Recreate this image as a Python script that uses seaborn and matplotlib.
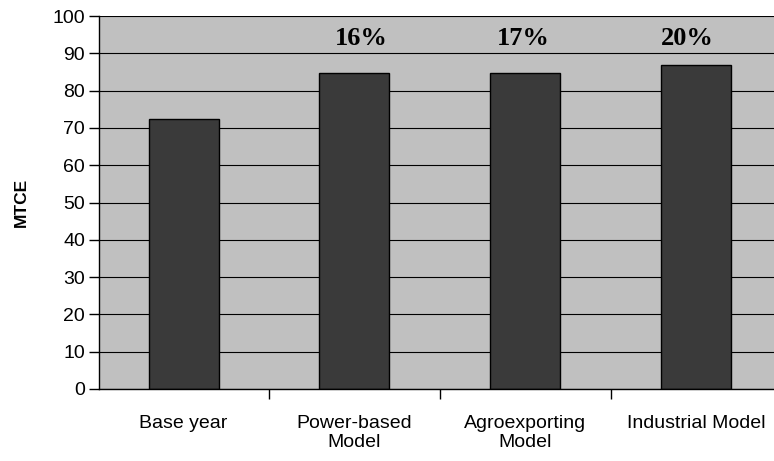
import matplotlib
matplotlib.use("Agg")
import matplotlib.pyplot as plt
import seaborn as sns
import pandas as pd

categories = ["Base year", "Power-based\nModel", "Agroexporting\nModel", "Industrial Model"]
mtce = [72.4, 84.7, 84.7, 86.9]
pct_labels = ["", "16%", "17%", "20%"]
y_ticks = [0, 10, 20, 30, 40, 50, 60, 70, 80, 90, 100]

sns.set_theme(style="white")
plt.rcParams["font.family"] = ["Liberation Sans", "DejaVu Sans"]

df = pd.DataFrame({"scenario": categories, "mtce": mtce})

fig = plt.figure(figsize=(7.74, 4.61), dpi=100)
ax = fig.add_axes([0.1279, 0.1562, 0.8721, 0.809])
ax.set_facecolor("#C0C0C0")

sns.barplot(data=df, x="scenario", y="mtce", ax=ax, color="#3A3A3A",
            width=0.41, edgecolor="black", linewidth=1.0, saturation=1)

ax.set_ylim(0, 100)
ax.set_xlim(-0.495, 3.457)
ax.set_yticks(y_ticks)
ax.yaxis.grid(True, color="black", linewidth=0.8)
ax.set_axisbelow(True)

# growth labels sit in the band above the bars
label_dx = [0.0, 0.04, -0.01, -0.05]
for i, lab in enumerate(pct_labels):
    if lab:
        ax.text(i + label_dx[i], 94.1, lab, ha="center", va="center", fontsize=19,
                fontweight="bold", color="black",
                family=["Liberation Serif", "DejaVu Serif"])

for side in ("top", "right"):
    ax.spines[side].set_visible(False)
for side in ("left", "bottom"):
    ax.spines[side].set_color("black")
    ax.spines[side].set_linewidth(1.0)

ax.tick_params(axis="y", which="major", left=True, length=7, width=1,
               color="black", labelsize=14, pad=3, direction="out")
ax.tick_params(axis="x", which="major", bottom=False, labelsize=14, pad=13)
ax.set_xticks([0.5, 1.5, 2.5], minor=True)
ax.tick_params(axis="x", which="minor", bottom=True, length=7, width=1,
               color="black", direction="out")
for t in ax.get_yticklabels():
    t.set_color("black")
for t in ax.get_xticklabels():
    t.set_color("black")
    t.set_linespacing(1.1)

ax.set_xlabel("")
ax.set_ylabel("MTCE", fontsize=12.5, fontweight="bold", color="black")
ax.yaxis.set_label_coords(-0.104, 0.5)

fig.savefig("out.png", dpi=100, facecolor="white")
